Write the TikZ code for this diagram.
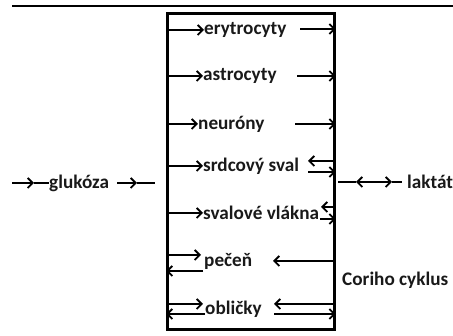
\documentclass[tikz,border=0pt]{standalone}
\usepackage{fontspec}
\setmainfont{Carlito}
\usetikzlibrary{arrows.meta}
\tikzset{barb/.tip={Straight Barb[length=5pt,width=10pt,line width=1.8pt]}}
\begin{document}
\begin{tikzpicture}[x=1pt,y=-1pt,
  lbl/.style={font=\bfseries\fontsize{19.2}{20}\selectfont, anchor=west, inner sep=0pt, text=black!90},
  arr/.style={line width=2.2pt, -{barb}},
  ln/.style={line width=2.2pt},
  frame/.style={draw, line width=2.6pt, inner sep=0pt, anchor=north west},
]
\useasboundingbox (0,0) rectangle (453,336);
% header rule
\coordinate (hA) at (12,6);
\coordinate (hB) at (453,6);
\draw[line width=1.8pt] (hA) -- (hB);

% the tissue box
\node[frame, minimum width=167pt, minimum height=316pt] (box) at (166,12) {};

% tissue labels
\node[lbl] (ery) at (204,30) {erytrocyty};
\node[lbl] (ast) at (203,76) {astrocyty};
\node[lbl] (neu) at (198,124) {neuróny};
\node[lbl] (srd) at (203,166) {srdcový sval};
\node[lbl] (sva) at (203,213) {svalové vlákna};
\node[lbl] (pec) at (204,261) {pečeň};
\node[lbl] (obl) at (205,309) {obličky};

% inflow into each tissue
\foreach \n in {ery,ast,neu,srd,sva}
  \draw[arr] (box.west |- \n.west) -- (\n.west);

% outflow of lactate
\coordinate (eryR) at (300,29);
\coordinate (astR) at (297,76);
\coordinate (neuR) at (295,124);
\foreach \n in {eryR,astR,neuR}
  \draw[arr] (\n) -- (box.east |- \n);

% heart muscle: both directions
\coordinate (srdU) at (308,161);
\coordinate (srdD) at (308,172);
\draw[arr] (box.east |- srdU) -- (srdU);
\draw[arr] (srdD) -- (box.east |- srdD);

% muscle fibres: both directions
\coordinate (svaU) at (321,207);
\coordinate (svaD) at (320,219);
\draw[arr] (box.east |- svaU) -- (svaU);
\draw[arr] (svaD) -- (box.east |- svaD);

% liver
\coordinate (pecU) at (201,255);
\coordinate (pecD) at (203,271);
\coordinate (pecR) at (273,261);
\draw[arr] (box.west |- pecU) -- (pecU);
\draw[arr] (pecD) -- (box.west |- pecD);
\draw[arr] (box.east |- pecR) -- (pecR);

% kidneys
\coordinate (oblU) at (203,304);
\coordinate (oblD) at (205,314);
\coordinate (oblRU) at (274,304);
\coordinate (oblRD) at (274,314);
\draw[arr] (box.west |- oblU) -- (oblU);
\draw[arr] (oblD) -- (box.west |- oblD);
\draw[arr] (box.east |- oblRU) -- (oblRU);
\draw[arr] (oblRD) -- (box.east |- oblRD);

% glucose input
\node[lbl] (glu) at (49,183) {glukóza};
\coordinate (gIn) at (12,183);
\coordinate (gM1) at (34,183);
\coordinate (gA) at (117,183);
\coordinate (gM2) at (137,183);
\coordinate (gB) at (155,183);
\draw[arr] (gIn) -- (gM1);
\draw[ln] (gM1) -- (glu.west);
\draw[arr] (gA) -- (gM2);
\draw[ln] (gM2) -- (gB);

% lactate exchange
\node[lbl] (lak) at (407,182) {laktát};
\coordinate (lA) at (338,182);
\coordinate (lM1) at (356,182);
\coordinate (lM2) at (392,182);
\coordinate (lB) at (402,182);
\draw[ln] (lA) -- (lM1);
\draw[ln, {barb}-{barb}] (lM1) -- (lM2);
\draw[ln] (lM2) -- (lB);

% Cori cycle caption
\node[lbl] (cori) at (342,280) {Coriho cyklus};
\end{tikzpicture}
\end{document}
